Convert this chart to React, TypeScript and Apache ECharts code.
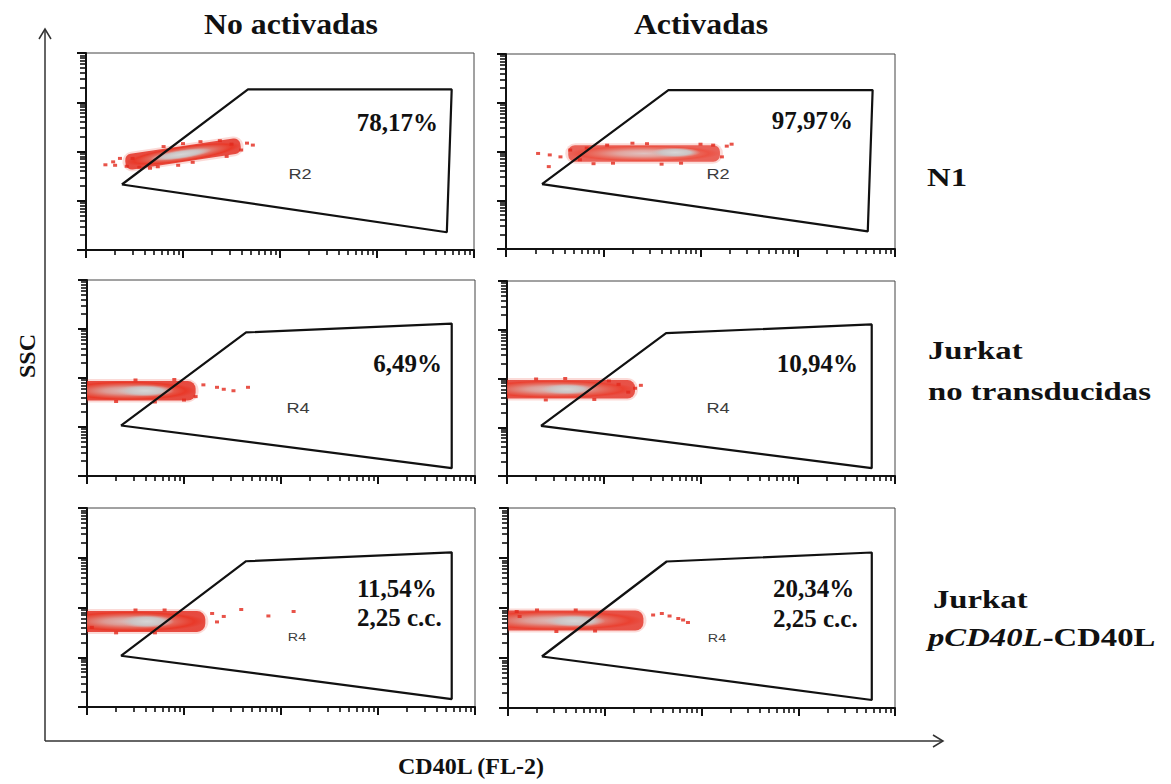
import React, { useEffect, useRef } from "react";
import * as echarts from "echarts";

// ---------------- DATA (axes in log10 decades of channel, 0–4) ----------------
const COLUMN_TITLES = ["No activadas", "Activadas"];
const ROW_LABELS = [["N1"], ["Jurkat", "no transducidas"], ["Jurkat", "{i|pCD40L}-CD40L"]];
const X_TITLE = "CD40L (FL-2)";
const Y_TITLE = "SSC";

const PERCENT_IN_GATE = ["78,17%", "97,97%", "6,49%", "10,94%", "11,54%", "20,34%"];
const CONCENTRATION = ["", "", "", "", "2,25 c.c.", "2,25 c.c."];
const REGION_NAMES = ["R2", "R2", "R4", "R4", "R4", "R4"];

const GATE_R2 = [[0.37, 1.33], [1.67, 3.26], [3.77, 3.26], [3.72, 0.36]];
const GATE_R4 = [[0.35, 1.03], [1.64, 2.93], [3.76, 3.11], [3.76, 0.16]];
const PANEL_GATES = [GATE_R2, GATE_R2, GATE_R4, GATE_R4, GATE_R4, GATE_R4];

// cloud bodies (rounded bands) and grey cores: [centerX, centerY, halfWidth, halfHeight, tiltDeg]
const BODY_N1_REST = [1.0, 1.95, 0.6, 0.16, 8.5];
const CORE_N1_REST = [0.98, 1.94, 0.32, 0.09, 8.5];
const BODY_N1_ACT = [1.42, 1.96, 0.78, 0.17, 0];
const CORE_N1_ACT = [1.74, 1.98, 0.26, 0.1, 0];
const BODY_JNT_REST = [0.42, 1.74, 0.7, 0.2, 0];
const CORE_JNT_REST = [0.6, 1.74, 0.3, 0.12, 0];
const BODY_JNT_ACT = [0.5, 1.78, 0.82, 0.19, 0];
const CORE_JNT_ACT = [0.62, 1.78, 0.28, 0.11, 0];
const BODY_JCD_REST = [0.45, 1.72, 0.77, 0.21, 0];
const CORE_JCD_REST = [0.62, 1.72, 0.28, 0.13, 0];
const BODY_JCD_ACT = [0.5, 1.75, 0.9, 0.2, 0];
const CORE_JCD_ACT = [0.69, 1.74, 0.32, 0.12, 0];

const SPECKLES_N1_REST = [[0.2, 1.73], [0.28, 1.79], [0.35, 1.86], [0.3, 1.72], [0.42, 1.7], [0.48, 1.86], [0.55, 1.68], [0.66, 1.66], [0.74, 1.69], [0.95, 1.72], [1.1, 1.78], [0.8, 2.1], [1.0, 2.16], [1.18, 2.2], [1.38, 2.22], [1.5, 2.15], [1.6, 2.03], [1.66, 2.17], [1.72, 2.13], [1.45, 1.9]];
const SPECKLES_N1_ACT = [[0.33, 1.96], [0.45, 1.93], [0.56, 1.89], [0.44, 1.69], [0.66, 2.03], [0.76, 1.83], [0.83, 2.07], [1.04, 2.13], [0.9, 1.75], [1.1, 1.76], [1.3, 2.17], [1.45, 2.16], [1.6, 1.74], [1.8, 1.76], [2.0, 2.15], [2.13, 2.13], [2.27, 2.11], [2.32, 2.15], [2.22, 1.89]];
const SPECKLES_JNT_REST = [[1.2, 1.86], [1.34, 1.81], [1.41, 1.77], [1.51, 1.74], [1.66, 1.81], [1.12, 1.62], [0.9, 1.97], [0.5, 1.96], [0.3, 1.52], [0.7, 1.51], [1.0, 1.55]];
const SPECKLES_JNT_ACT = [[1.05, 1.95], [1.15, 1.88], [1.25, 1.72], [1.32, 1.8], [1.38, 1.86], [0.6, 2.0], [0.3, 1.99], [0.9, 1.57], [0.4, 1.56]];
const SPECKLES_JCD_REST = [[1.29, 1.88], [1.41, 1.82], [1.59, 1.96], [1.87, 1.83], [2.13, 1.92], [1.34, 1.71], [0.8, 1.95], [0.5, 1.95], [0.3, 1.49], [0.7, 1.49], [0.05, 1.6]];
const SPECKLES_JCD_ACT = [[1.5, 1.86], [1.59, 1.89], [1.67, 1.84], [1.76, 1.79], [1.81, 1.76], [1.86, 1.71], [0.09, 1.93], [0.12, 1.83], [0.3, 1.96], [0.7, 1.96], [0.9, 1.54], [0.5, 1.53]];

const BODIES = [BODY_N1_REST, BODY_N1_ACT, BODY_JNT_REST, BODY_JNT_ACT, BODY_JCD_REST, BODY_JCD_ACT];
const CORES = [CORE_N1_REST, CORE_N1_ACT, CORE_JNT_REST, CORE_JNT_ACT, CORE_JCD_REST, CORE_JCD_ACT];
const SPECKLES = [SPECKLES_N1_REST, SPECKLES_N1_ACT, SPECKLES_JNT_REST, SPECKLES_JNT_ACT, SPECKLES_JCD_REST, SPECKLES_JCD_ACT];

const DECADES = [0, 1, 2, 3];
const MINOR_MULTIPLIERS = [2, 3, 4, 5, 6, 7, 8, 9];
const MINOR_TICKS = DECADES.flatMap((d) => MINOR_MULTIPLIERS.map((m) => d + Math.log10(m)));

// ---------------- LAYOUT ----------------
const PANELS = [
  { left: 86, top: 53, width: 388, height: 197 },
  { left: 506, top: 54, width: 389, height: 195 },
  { left: 87, top: 280, width: 388, height: 196 },
  { left: 507, top: 281, width: 388, height: 195 },
  { left: 87, top: 508, width: 388, height: 199 },
  { left: 508, top: 508, width: 387, height: 200 },
];
const BODY_OPACITY = [0.95, 0.8, 0.95, 0.9, 0.95, 0.9];
const PCT_POS = [
  { x: 438, y: 122, align: "right" },
  { x: 853, y: 120, align: "right" },
  { x: 442, y: 363, align: "right" },
  { x: 858, y: 363, align: "right" },
  { x: 357, y: 588, align: "left" },
  { x: 773, y: 588, align: "left" },
];
const CC_POS = [null, null, null, null, { x: 357, y: 617 }, { x: 773, y: 618 }];
const REGION_POS = [
  { x: 300, y: 174, size: 14 },
  { x: 718, y: 174, size: 14 },
  { x: 298, y: 408, size: 14 },
  { x: 718, y: 408, size: 14 },
  { x: 297, y: 637, size: 11 },
  { x: 717, y: 638, size: 11 },
];
const TITLE_POS = [{ x: 291, y: 24 }, { x: 701, y: 24 }];
const ROW_POS = [
  [{ x: 927, y: 177 }],
  [{ x: 928, y: 350 }, { x: 928, y: 391 }],
  [{ x: 933, y: 599 }, { x: 928, y: 637 }],
];

const SERIF = "'Liberation Serif', 'Times New Roman', serif";
const INK = "#111";

function buildOption() {
  const grid: any[] = [];
  const xAxis: any[] = [];
  const yAxis: any[] = [];
  const series: any[] = [];

  PANELS.forEach((p, i) => {
    grid.push({
      ...p,
      show: true,
      borderColor: "#444",
      borderWidth: 1,
      backgroundColor: "transparent",
      containLabel: false,
      outerBoundsMode: "none",
    });
    const base = {
      gridIndex: i,
      type: "value",
      min: 0,
      max: 4,
      axisLabel: { show: false },
      splitLine: { show: false },
    };
    xAxis.push({
      ...base,
      position: "bottom",
      interval: 1,
      axisLine: { show: true, onZero: false, lineStyle: { color: INK, width: 2 } },
      axisTick: { show: true, length: 8, lineStyle: { color: INK, width: 2 } },
    });
    xAxis.push({
      ...base,
      position: "bottom",
      axisLine: { show: false, onZero: false },
      axisTick: { show: true, length: 5, customValues: MINOR_TICKS, lineStyle: { color: INK, width: 1.6 } },
    });
    yAxis.push({
      ...base,
      position: "left",
      interval: 1,
      axisLine: { show: true, onZero: false, lineStyle: { color: INK, width: 2 } },
      axisTick: { show: true, length: 9, lineStyle: { color: INK, width: 2 } },
    });
    yAxis.push({
      ...base,
      position: "left",
      axisLine: { show: false, onZero: false },
      axisTick: { show: true, length: 6, customValues: MINOR_TICKS, lineStyle: { color: INK, width: 1.6 } },
    });

    const ax = { xAxisIndex: 2 * i, yAxisIndex: 2 * i };
    const opacity = BODY_OPACITY[i];

    series.push({
      type: "custom",
      ...ax,
      clip: true,
      silent: true,
      z: 2,
      data: [
        [...BODIES[i], 0],
        [...CORES[i], 1],
      ],
      renderItem: (params: any, api: any) => {
        const cx = api.value(0);
        const cy = api.value(1);
        const c = api.coord([cx, cy]);
        const e = api.coord([cx + api.value(2), cy + api.value(3)]);
        const rx = Math.abs(e[0] - c[0]);
        const ry = Math.abs(c[1] - e[1]);
        const rot = (api.value(4) * Math.PI) / 180;
        const kind = api.value(5);
        if (kind === 0) {
          return {
            type: "group",
            x: c[0],
            y: c[1],
            rotation: rot,
            children: [
              {
                type: "rect",
                shape: { x: -rx - 3, y: -ry - 2, width: 2 * rx + 6, height: 2 * ry + 4, r: ry + 2 },
                style: { fill: "rgba(236,70,55,0.2)" },
              },
              {
                type: "rect",
                shape: { x: -rx, y: -ry, width: 2 * rx, height: 2 * ry, r: ry * 0.8 },
                style: {
                  opacity,
                  fill: {
                    type: "radial", x: 0.5, y: 0.5, r: 0.5,
                    colorStops: [
                      { offset: 0, color: "#d8bcba" },
                      { offset: 0.35, color: "#db968f" },
                      { offset: 0.62, color: "#e45a4c" },
                      { offset: 0.85, color: "#e8301f" },
                      { offset: 1, color: "rgba(226,40,27,0.85)" },
                    ],
                  },
                },
              },
            ],
          };
        }
        return {
          type: "ellipse",
          x: c[0],
          y: c[1],
          rotation: rot,
          shape: { cx: 0, cy: 0, rx, ry },
          style: {
            fill: {
              type: "radial", x: 0.5, y: 0.5, r: 0.5,
              colorStops: [
                { offset: 0, color: "#d6d6d6" },
                { offset: 0.6, color: "#cbc3c3" },
                { offset: 1, color: "rgba(214,180,178,0)" },
              ],
            },
          },
        };
      },
    });

    series.push({
      type: "scatter",
      ...ax,
      silent: true,
      z: 3,
      symbol: "rect",
      symbolSize: [4, 3],
      itemStyle: { color: "#e2281b" },
      data: SPECKLES[i],
    });

    const gate = PANEL_GATES[i];
    series.push({
      type: "line",
      ...ax,
      silent: true,
      z: 5,
      symbol: "none",
      lineStyle: { color: INK, width: 2.2 },
      data: [...gate, gate[0]],
    });
  });

  const graphic: any[] = [];
  COLUMN_TITLES.forEach((t, i) => {
    graphic.push({
      type: "text",
      x: TITLE_POS[i].x,
      y: TITLE_POS[i].y,
      scaleX: 1.06,
      style: { text: t, fill: INK, font: `bold 30px ${SERIF}`, textAlign: "center", textVerticalAlign: "middle" },
    });
  });
  ROW_LABELS.forEach((lines, r) => {
    lines.forEach((ln, k) => {
      graphic.push({
        type: "text",
        x: ROW_POS[r][k].x,
        y: ROW_POS[r][k].y,
        scaleX: 1.26,
        style: {
          text: ln,
          fill: INK,
          font: `bold 26px ${SERIF}`,
          textAlign: "left",
          textVerticalAlign: "middle",
          rich: { i: { fontStyle: "italic", fontWeight: "bold", fontSize: 26, fontFamily: SERIF, fill: INK } },
        },
      });
    });
  });
  PERCENT_IN_GATE.forEach((t, i) => {
    graphic.push({
      type: "text",
      x: PCT_POS[i].x,
      y: PCT_POS[i].y,
      z: 10,
      style: { text: t, fill: INK, font: `bold 25px ${SERIF}`, textAlign: PCT_POS[i].align, textVerticalAlign: "middle" },
    });
    if (CONCENTRATION[i] && CC_POS[i]) {
      graphic.push({
        type: "text",
        x: CC_POS[i]!.x,
        y: CC_POS[i]!.y,
        z: 10,
        style: { text: CONCENTRATION[i], fill: INK, font: `bold 25px ${SERIF}`, textAlign: "left", textVerticalAlign: "middle" },
      });
    }
    graphic.push({
      type: "text",
      x: REGION_POS[i].x,
      y: REGION_POS[i].y,
      scaleX: 1.3,
      z: 10,
      style: {
        text: REGION_NAMES[i],
        fill: "#3c3c3c",
        font: `${REGION_POS[i].size}px 'Liberation Sans', Arial, sans-serif`,
        textAlign: "center",
        textVerticalAlign: "middle",
      },
    });
  });

  // big axes frame with arrows
  graphic.push({ type: "line", shape: { x1: 45, y1: 741, x2: 45, y2: 29 }, style: { stroke: "#333", lineWidth: 1.5 } });
  graphic.push({ type: "polyline", shape: { points: [[39, 39], [45, 29], [51, 39]] }, style: { stroke: "#333", lineWidth: 1.5, fill: null } });
  graphic.push({ type: "line", shape: { x1: 45, y1: 741, x2: 943, y2: 741 }, style: { stroke: "#333", lineWidth: 1.5 } });
  graphic.push({ type: "polyline", shape: { points: [[933, 735], [943, 741], [933, 747]] }, style: { stroke: "#333", lineWidth: 1.5, fill: null } });
  graphic.push({
    type: "text",
    x: 471,
    y: 766,
    style: { text: X_TITLE, fill: INK, font: `bold 24px ${SERIF}`, textAlign: "center", textVerticalAlign: "middle" },
  });
  graphic.push({
    type: "text",
    x: 27,
    y: 356,
    rotation: Math.PI / 2,
    style: { text: Y_TITLE, fill: INK, font: `bold 24px ${SERIF}`, textAlign: "center", textVerticalAlign: "middle" },
  });

  return {
    animation: false,
    backgroundColor: "#ffffff",
    grid,
    xAxis,
    yAxis,
    series,
    graphic,
  };
}

export default function App() {
  const ref = useRef<HTMLDivElement>(null);
  useEffect(() => {
    if (!ref.current) return;
    const chart = echarts.init(ref.current, null, { renderer: "svg" });
    chart.setOption(buildOption() as any);
    return () => {
      chart.dispose();
    };
  }, []);
  return (
    <div
      ref={ref}
      style={{ position: "absolute", left: 0, top: 0, width: 1171, height: 784, background: "#fff" }}
    />
  );
}
